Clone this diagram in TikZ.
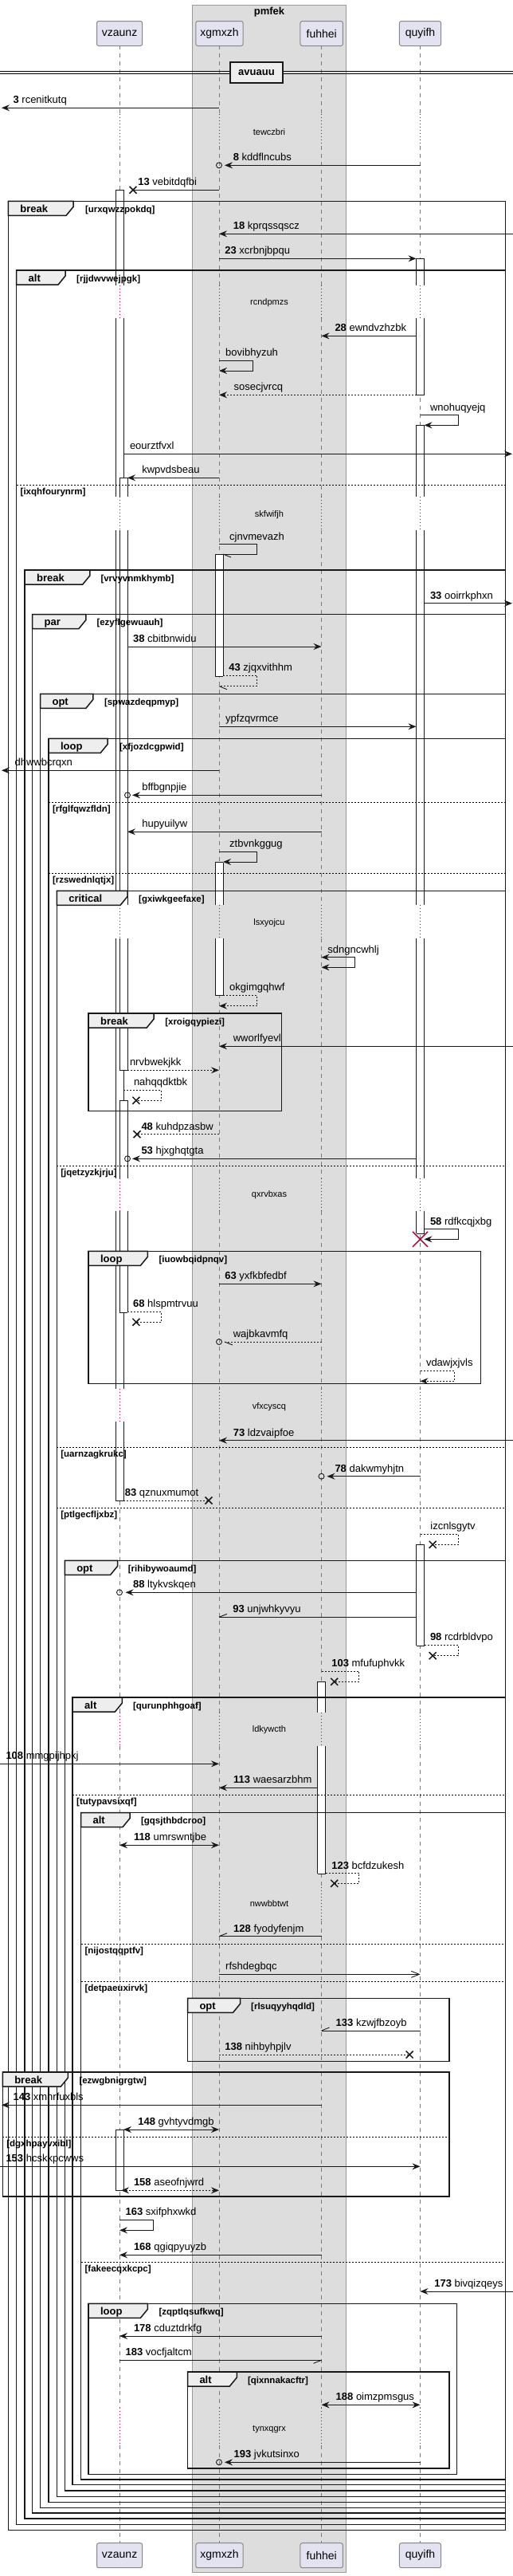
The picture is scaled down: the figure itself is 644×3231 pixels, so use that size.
\documentclass[tikz,border=0pt]{standalone}
\usepackage{fontspec}
\setmainfont{Liberation Sans}
\usetikzlibrary{arrows.meta,shapes.misc}
\definecolor{crim}{HTML}{A80036}
\definecolor{partfill}{HTML}{E2E2F0}
\definecolor{partdraw}{HTML}{888888}
\definecolor{boxfill}{HTML}{DDDDDD}
\definecolor{boxdraw}{HTML}{999999}
\definecolor{tabfill}{HTML}{EEEEEE}
\definecolor{lifegray}{HTML}{7A7A7A}
\tikzset{
  every node/.style={inner sep=0pt, outer sep=0pt},
  msg/.style={line width=0.9pt, draw=black!90},
  dmsg/.style={msg, dash pattern=on 2pt off 2pt},
  arr/.style={-{Stealth[length=10pt,width=8pt,inset=3.5pt]}},
  barr/.style={{Stealth[length=10pt,width=8pt,inset=3.5pt]}-{Stealth[length=10pt,width=8pt,inset=3.5pt]}},
  oarr/.style={-{Straight Barb[length=10pt,width=8pt]}},
  lbl/.style={anchor=base west, font=\fontsize{13}{15}\selectfont},
  part/.style={draw=partdraw, fill=partfill, rounded corners=2.5pt, line width=1pt, minimum height=31pt, font=\fontsize{14}{16}\selectfont},
  frm/.style={line width=1.5pt, draw=black!90},
  tabk/.style={anchor=base west, font=\bfseries\fontsize{13}{15}\selectfont},
  cond/.style={anchor=base west, font=\bfseries\fontsize{11.5}{13}\selectfont},
  elseln/.style={line width=0.8pt, dash pattern=on 2pt off 2pt},
  dly/.style={font=\fontsize{11}{13}\selectfont},
  xmark/.style={cross out, draw=black!90, line width=1.5pt, minimum size=9pt},
  omark/.style={circle, draw=black!90, line width=0.9pt, minimum size=7pt},
  life/.style={draw=lifegray, line width=0.8pt, dash pattern=on 5pt off 5pt},
  delayln/.style={draw=crim, line width=1pt, dash pattern=on 1pt off 3pt},
  actln/.style={line width=0.9pt, draw=black!90}
}
\newcommand\Msg[5]{\coordinate (#1-s) at (#2,#4); \coordinate (#1-e) at (#3,#4); \draw[#5] (#1-s) -- (#1-e);}
\newcommand\Self[7]{\coordinate (#1-s) at (#2,#4); \coordinate (#1-a) at (#3,#4); \coordinate (#1-b) at (#3,#5); \coordinate (#1-e) at (#6,#5); \draw[#7] (#1-s) -- (#1-a) -- (#1-b) -- (#1-e);}
\newcommand\Lbl[4]{\node[lbl] (#1-l) at (#2,#3-5.5) {#4};}
\newcommand\Barb[3]{\draw[msg] (#1) -- ++(#2,#3);}
\newcommand\ActSeg[4]{\fill[white] (#1,#3) rectangle (#2,#4); \draw[actln] (#1,#3) -- (#1,#4) (#2,#3) -- (#2,#4);}
\newcommand\ActCap[3]{\draw[actln] (#1,#3) -- (#2,#3);}
\newcommand\Frame[9]{\draw[frm] (#1,#3) rectangle (#2,#4);
  \draw[frm, fill=tabfill] (#1,#3) -- (#5,#3) -- (#5,#3+7) -- (#5-9,#3+18) -- (#1,#3+18) -- cycle;
  \node[tabk] (#9-k) at (#1+15,#3+14) {#7};
  \node[cond] (#9-c) at (#6,#3+14) {#8};}
\newcommand\Else[5]{\draw[elseln] (#1,#3) -- (#2,#3); \node[cond] (#5) at (#1+5,#3+12) {#4};}
\begin{document}
\begin{tikzpicture}[x=1pt,y=-1pt]
\useasboundingbox (0,0) rectangle (644,3231);
% group box
\node[draw=boxdraw, fill=boxfill, line width=0.8pt, minimum width=192.4pt, minimum height=3220.7pt, anchor=north west] (pmfek) at (241.8,6) {};
\node[font=\bfseries\fontsize{13}{15}\selectfont] (pmfekT) at (338,15.5) {pmfek};
% lifelines
\foreach \x in {150,275,403.5,527.5} {
  \foreach \a/\b in {57.3/143, 183/357.7, 399/623.3, 665/1135, 1177.3/1477.7, 1519.3/1741.7, 1783.3/2148.3, 2190/2366.7, 2408.7/3020, 3066.7/3189.3}
    {\draw[life] (\x,\a) -- (\x,\b);}
  \foreach \a/\b in {143/183, 357.7/399, 623.3/665, 1135/1177.3, 1477.7/1519.3, 1741.7/1783.3, 2148.3/2190, 2366.7/2408.7, 3020/3066.7}
    {\draw[delayln] (\x,\a) -- (\x,\b);}
}
% participants
\node[part, minimum width=57.2pt] (vzT) at (150.1,42) {vzaunz};
\node[part, minimum width=59.3pt] (xgT) at (275.5,42) {xgmxzh};
\node[part, minimum width=53.5pt] (fuT) at (403.7,42) {fuhhei};
\node[part, minimum width=52.2pt] (quT) at (527.5,42) {quyifh};
\node[part, minimum width=57.2pt] (vzB) at (150.1,3205.2) {vzaunz};
\node[part, minimum width=59.3pt] (xgB) at (275.5,3205.2) {xgmxzh};
\node[part, minimum width=53.5pt] (fuB) at (403.7,3205.2) {fuhhei};
\node[part, minimum width=52.2pt] (quB) at (527.5,3205.2) {quyifh};
% activations
\foreach \a/\b in {238.3/357.7, 399/623.3, 665/1135, 1177.3/1477.7, 1519.3/1741.7, 1783.3/1882} {\ActSeg{145}{155}{\a}{\b}}
\ActCap{145}{155}{238.3}
\ActCap{145}{155}{1882}
\foreach \a/\b in {599.3/623.3, 665/1135, 1177.3/1342.3} {\ActSeg{150}{160}{\a}{\b}}
\ActCap{150}{160}{599.3}
\ActCap{150}{160}{1342.3}
\foreach \a/\b in {1380.3/1477.7, 1519.3/1646} {\ActSeg{150}{160}{\a}{\b}}
\ActCap{150}{160}{1380.3}
\ActCap{150}{160}{1646}
\ActSeg{145}{155}{2671}{2747.3}
\ActCap{145}{155}{2671}
\ActCap{145}{155}{2747.3}
\ActSeg{270}{280}{695}{848.3}
\ActCap{270}{280}{695}
\ActCap{270}{280}{848.3}
\foreach \a/\b in {1081.7/1135, 1177.3/1248.3} {\ActSeg{270}{280}{\a}{\b}}
\ActCap{270}{280}{1081.7}
\ActCap{270}{280}{1248.3}
\foreach \a/\b in {2109.3/2148.3, 2190/2350.3} {\ActSeg{398.5}{408.5}{\a}{\b}}
\ActCap{398.5}{408.5}{2109.3}
\ActCap{398.5}{408.5}{2350.3}
\foreach \a/\b in {324.3/357.7, 399/495.3} {\ActSeg{522.5}{532.5}{\a}{\b}}
\ActCap{522.5}{532.5}{324.3}
\ActCap{522.5}{532.5}{495.3}
\foreach \a/\b in {533.3/623.3, 665/1135, 1177.3/1477.7, 1519.3/1547.3} {\ActSeg{522.5}{532.5}{\a}{\b}}
\ActCap{522.5}{532.5}{533.3}
\ActCap{522.5}{532.5}{1547.3}
\ActSeg{522.5}{532.5}{1937.3}{2064}
\ActCap{522.5}{532.5}{1937.3}
\ActCap{522.5}{532.5}{2064}
% frames
\Frame{10.4}{634.5}{252.3}{3173.3}{92.1}{107}{break}{[urxqwzzpokdq]}{f1}
\Frame{20.7}{634.5}{339}{3166.7}{82.1}{96.2}{alt}{[rjjdwvwejpgk]}{f2}
\Else{20.7}{634.5}{608.3}{[ixqhfourynrm]}{e1}
\Frame{31.1}{634.5}{715}{3159}{112.8}{126.5}{break}{[vrvyvnmkhymb]}{f3}
\Frame{40.6}{634.5}{770.7}{3152}{107.8}{121.5}{par}{[ezyflgewuauh]}{f4}
\Frame{50.6}{634.5}{870.3}{3145.3}{116.9}{131}{opt}{[spwazdeqpmyp]}{f5}
\Frame{61}{634.5}{926.3}{3138.3}{135.2}{150.1}{loop}{[xfjozdcgpwid]}{f6}
\Else{61}{634.5}{1006.3}{[rfglfqwzfldn]}{e2}
\Else{61}{634.5}{1095.3}{[rzswednlqtjx]}{e3}
\Frame{71.3}{634.5}{1117.3}{3131.3}{160.1}{174.2}{critical}{[gxiwkgeefaxe]}{f7}
\Frame{111.1}{353.7}{1271}{1393.3}{193.2}{207.3}{break}{[xroigqypiezi]}{f7a}
\Else{71.3}{634.5}{1462.3}{[jqetzyzkjrju]}{e4}
\Frame{111.1}{603.4}{1569.3}{1735.7}{185.4}{199.5}{loop}{[iuowbqidpnqv]}{f7b}
\Else{71.3}{634.5}{1815.3}{[uarnzagkrukc]}{e5}
\Else{71.3}{634.5}{1891.7}{[ptlgecfljxbz]}{e6}
\Frame{81.3}{634.5}{1957.3}{3124}{147.6}{160.9}{opt}{[rihibywoaumd]}{f8}
\Frame{91.2}{634.5}{2129}{3116.7}{153.4}{167.1}{alt}{[qurunphhgoaf]}{f9}
\Else{91.2}{634.5}{2251}{[tutypavsixqf]}{e7}
\Frame{101.6}{634.5}{2273.7}{3110}{163}{177.1}{alt}{[gqsjthbdcroo]}{f10}
\Else{101.6}{634.5}{2438.3}{[nijostqqptfv]}{e8}
\Else{101.6}{634.5}{2485}{[detpaeuxirvk]}{e9}
\Frame{235.5}{564}{2506.3}{2585.3}{301.5}{315.2}{opt}{[rlsuqyyhqdld]}{f10a}
\Frame{3.3}{564}{2599}{2755}{85.4}{99.5}{break}{[ezwgbnigrgtw]}{f10b}
\Else{3.3}{564}{2680}{[dgxhpayvxibl]}{e10}
\Else{101.6}{634.5}{2837}{[fakeecqxkcpc]}{e11}
\Frame{111.1}{573.5}{2889.3}{3103.3}{185.4}{199.5}{loop}{[zqptlqsufkwq]}{f11}
\Frame{235.5}{564}{2975}{3096}{297.3}{311}{alt}{[qixnnakacftr]}{f11a}
% divider
\draw[line width=0.9pt] (0,89.3) -- (644,89.3) (0,92.7) -- (644,92.7);
\node[draw=black!90, fill=tabfill, line width=2pt, minimum width=66.8pt, minimum height=26.6pt, font=\bfseries\fontsize{13}{15}\selectfont] (div) at (322,91) {avuauu};
% messages
\Msg{m3}{275}{2}{135.3}{msg,arr} \Lbl{m3}{16.6}{135.3}{\textbf{3} rcenitkutq}
\node[omark] (m8o) at (275,207.3) {}; \Msg{m8}{527.5}{282}{207.3}{msg,arr} \Lbl{m8}{292.8}{207.3}{\textbf{8} kddflncubs}
\Msg{m13}{275}{167}{238.3}{msg} \node[xmark] (m13x) at (167,238.3) {}; \Lbl{m13}{173.3}{238.3}{\textbf{13} vebitdqfbi}
\Msg{m18}{644}{275}{293.3}{msg,arr} \Lbl{m18}{292.8}{293.3}{\textbf{18} kprqssqscz}
\Msg{m23}{275}{522.5}{324.3}{msg,arr} \Lbl{m23}{282.4}{324.3}{\textbf{23} xcrbnjbpqu}
\Msg{m28}{522.5}{403.5}{421.3}{msg,arr} \Lbl{m28}{420.5}{421.3}{\textbf{28} ewndvzhzbk}
\Self{s1}{275}{317.7}{452}{465}{275}{msg,arr} \Lbl{s1}{283.2}{452}{bovibhyzuh}
\Msg{ms1}{522.5}{275}{495.3}{dmsg,arr} \Lbl{ms1}{293.6}{495.3}{sosecjvrcq}
\Self{s2}{527.5}{575.2}{520.7}{533.3}{532.5}{msg,arr} \Lbl{s2}{540}{520.7}{wnohuqyejq}
\Msg{ms2}{155}{643}{569.3}{msg,arr} \Lbl{ms2}{163}{569.3}{eourztfvxl}
\Msg{ms3}{275}{160}{599.3}{msg,arr} \Lbl{ms3}{178.3}{599.3}{kwpvdsbeau}
\Self{s3}{275}{322.6}{682.7}{695}{280}{msg} \Barb{s3-e}{10}{4} \Lbl{s3}{288.2}{682.7}{cjnvmevazh}
\Msg{m33}{532.5}{643}{756.7}{msg,arr} \Lbl{m33}{540}{756.7}{\textbf{33} ooirrkphxn}
\Msg{m38}{160}{403.5}{811}{msg,arr} \Lbl{m38}{167.1}{811}{\textbf{38} cbitbnwidu}
\Self{m43}{280}{322.6}{847}{860.7}{275}{dmsg} \Barb{m43-e}{10}{4} \Lbl{m43}{287.4}{847}{\textbf{43} zjqxvithhm}
\Msg{ms4}{275}{522.5}{911.3}{msg,arr} \Lbl{ms4}{283.2}{911.3}{ypfzqvrmce}
\Msg{ms5}{275}{2}{966.3}{msg,arr} \Lbl{ms5}{18.7}{966.3}{dhwwbcrqxn}
\node[omark] (ms6o) at (160,997.3) {}; \Msg{ms6}{403.5}{166}{997.3}{msg,arr} \Lbl{ms6}{178.3}{997.3}{bffbgnpjie}
\Msg{ms7}{403.5}{160}{1043.3}{msg,arr} \Lbl{ms7}{178.3}{1043.3}{hupyuilyw}
\Self{s5}{275}{322.6}{1068.3}{1081}{280}{msg,arr} \Lbl{s5}{288.2}{1068.3}{ztbvnkggug}
\Self{s6}{403.5}{445.8}{1200.7}{1213.3}{403.5}{msg,barr} \Lbl{s6}{411.4}{1200.7}{sdngncwhlj}
\Self{s7}{280}{322.6}{1248.3}{1261.7}{275}{dmsg,arr} \Lbl{s7}{288.2}{1248.3}{okgimgqhwf}
\Msg{ms8}{644}{275}{1312.3}{msg,arr} \Lbl{ms8}{292.8}{1312.3}{wworlfyevl}
\Msg{ms9}{160}{275}{1342.3}{dmsg,arr} \Lbl{ms9}{163}{1342.3}{nrvbwekjkk}
\Self{s8}{155}{202.4}{1367.3}{1380.3}{170.9}{dmsg} \node[xmark] (s8x) at (170.9,1380.3) {}; \Lbl{s8}{168}{1367.3}{nahqqdktbk}
\Msg{m48}{275}{172}{1422.7}{dmsg} \node[xmark] (m48x) at (172,1422.7) {}; \Lbl{m48}{177.5}{1422.7}{\textbf{48} kuhdpzasbw}
\node[omark] (m53o) at (160,1453.3) {}; \Msg{m53}{522.5}{166}{1453.3}{msg,arr} \Lbl{m53}{177.5}{1453.3}{\textbf{53} hjxghqtgta}
\Self{m58}{532.5}{575.2}{1541.7}{1554.3}{532.5}{msg,arr} \Lbl{m58}{540}{1541.7}{\textbf{58} rdfkcqjxbg}
\node[cross out, draw=crim, line width=1.5pt, minimum size=19pt] (quX) at (527.5,1554.3) {};
\Msg{m63}{275}{403.5}{1610.3}{msg,arr} \Lbl{m63}{282.4}{1610.3}{\textbf{63} yxfkbfedbf}
\Self{m68}{160}{202.4}{1645}{1658.3}{170.9}{dmsg} \node[xmark] (m68x) at (170.9,1658.3) {}; \Lbl{m68}{167.1}{1645}{\textbf{68} hlspmtrvuu}
\node[omark] (ms10o) at (275,1683) {}; \Msg{ms10}{403.5}{282}{1683}{dmsg} \Barb{ms10-e}{10}{4} \Lbl{ms10}{292.8}{1683}{wajbkavmfq}
\Self{s9}{527.5}{570.2}{1719.3}{1732.3}{527.5}{dmsg,arr} \Lbl{s9}{535}{1719.3}{vdawjxjvls}
\Msg{m73}{644}{275}{1806.7}{msg,arr} \Lbl{m73}{292.8}{1806.7}{\textbf{73} ldzvaipfoe}
\node[omark] (m78o) at (403.5,1851.7) {}; \Msg{m78}{527.5}{410.5}{1851.7}{msg,arr} \Lbl{m78}{420.5}{1851.7}{\textbf{78} dakwmyhjtn}
\Msg{m83}{155}{262}{1882}{dmsg} \node[xmark] (m83x) at (262,1882) {}; \Lbl{m83}{156.8}{1882}{\textbf{83} qznuxmumot}
\Self{s10}{527.5}{575.2}{1924.3}{1937.3}{543.2}{dmsg} \node[xmark] (s10x) at (543.2,1937.3) {}; \Lbl{s10}{540.4}{1924.3}{izcnlsgytv}
\node[omark] (m88o) at (150,1997.3) {}; \Msg{m88}{522.5}{157.6}{1997.3}{msg,arr} \Lbl{m88}{167.1}{1997.3}{\textbf{88} ltykvskqen}
\Msg{m93}{522.5}{275}{2028.3}{msg} \Barb{m93-e}{10}{-4} \Lbl{m93}{292.4}{2028.3}{\textbf{93} unjwhkyvyu}
\Self{m98}{532.5}{575.2}{2063.3}{2076.7}{543.2}{dmsg} \node[xmark] (m98x) at (543.2,2076.7) {}; \Lbl{m98}{540}{2063.3}{\textbf{98} rcdrbldvpo}
\Self{m103}{403.5}{450.8}{2096.3}{2109.3}{419.7}{dmsg} \node[xmark] (m103x) at (419.7,2109.3) {}; \Lbl{m103}{416.3}{2096.3}{\textbf{103} mfufuphvkk}
\Msg{m108}{0}{275}{2212.3}{msg,arr} \Lbl{m108}{7.5}{2212.3}{\textbf{108} mmgpijhpkj}
\Msg{m113}{398.5}{275}{2242.3}{msg,arr} \Lbl{m113}{293.2}{2242.3}{\textbf{113} waesarzbhm}
\Msg{m118}{150}{275}{2314.3}{msg,barr} \Lbl{m118}{168}{2314.3}{\textbf{118} umrswntjbe}
\Self{m123}{408.5}{450.8}{2349.7}{2362.3}{419.7}{dmsg} \node[xmark] (m123x) at (419.7,2362.3) {}; \Lbl{m123}{416.3}{2349.7}{\textbf{123} bcfdzukesh}
\Msg{m128}{403.5}{275}{2428.7}{msg} \Barb{m128-e}{10}{-4} \Lbl{m128}{293.2}{2428.7}{\textbf{128} fyodyfenjm}
\Msg{ms11}{275}{527.5}{2476.3}{msg,oarr} \Lbl{ms11}{283.2}{2476.3}{rfshdegbqc}
\Msg{m133}{527.5}{403.5}{2547}{msg} \Barb{m133-e}{10}{-4} \Lbl{m133}{421.7}{2547}{\textbf{133} kzwjfbzoyb}
\Msg{m138}{275}{514.2}{2577}{dmsg} \node[xmark] (m138x) at (514.2,2577) {}; \Lbl{m138}{282.4}{2577}{\textbf{138} nihbyhpjlv}
\Msg{m143}{403.5}{2}{2640.3}{msg,arr} \Lbl{m143}{16.6}{2640.3}{\textbf{143} xmnrfuxbls}
\Msg{m148}{155}{275}{2671}{msg,barr} \Lbl{m148}{173.3}{2671}{\textbf{148} gvhtyvdmgb}
\Msg{m153}{0}{527.5}{2717.3}{msg,arr} \Lbl{m153}{7.5}{2717.3}{\textbf{153} hcskkpcwws}
\Msg{m158}{152}{275}{2747.3}{dmsg,barr} \Lbl{m158}{168}{2747.3}{\textbf{158} aseofnjwrd}
\Self{m163}{150}{192.4}{2784.3}{2797.3}{150}{msg,arr} \Lbl{m163}{157.6}{2784.3}{\textbf{163} sxifphxwkd}
\Msg{m168}{403.5}{150}{2828.3}{msg,arr} \Lbl{m168}{168}{2828.3}{\textbf{168} qgiqpyuyzb}
\Msg{m173}{644}{527.5}{2874}{msg,arr} \Lbl{m173}{545.3}{2874}{\textbf{173} bivqizqeys}
\Msg{m178}{403.5}{150}{2930}{msg,arr} \Lbl{m178}{168}{2930}{\textbf{178} cduztdrkfg}
\Msg{m183}{150}{403.5}{2960.3}{msg} \Barb{m183-e}{-10}{4} \Lbl{m183}{157.6}{2960.3}{\textbf{183} vocfjaltcm}
\Msg{m188}{403.5}{527.5}{3016.3}{msg,barr} \Lbl{m188}{421.7}{3016.3}{\textbf{188} oimzpmsgus}
\node[omark] (m193o) at (275,3088.3) {}; \Msg{m193}{527.5}{282}{3088.3}{msg,arr} \Lbl{m193}{293.6}{3088.3}{\textbf{193} jvkutsinxo}
% delay texts
\node[dly] (d1) at (338,165.3) {tewczbri};
\node[dly] (d2) at (338,379.3) {rcndpmzs};
\node[dly] (d3) at (338,645.3) {skfwifjh};
\node[dly] (d4) at (338,1157.3) {lsxyojcu};
\node[dly] (d5) at (338,1499) {qxrvbxas};
\node[dly] (d6) at (338,1764.3) {vfxcyscq};
\node[dly] (d7) at (338,2170) {ldkywcth};
\node[dly] (d8) at (338,2387.7) {nwwbbtwt};
\node[dly] (d9) at (338,3046.7) {tynxqgrx};
\end{tikzpicture}
\end{document}
